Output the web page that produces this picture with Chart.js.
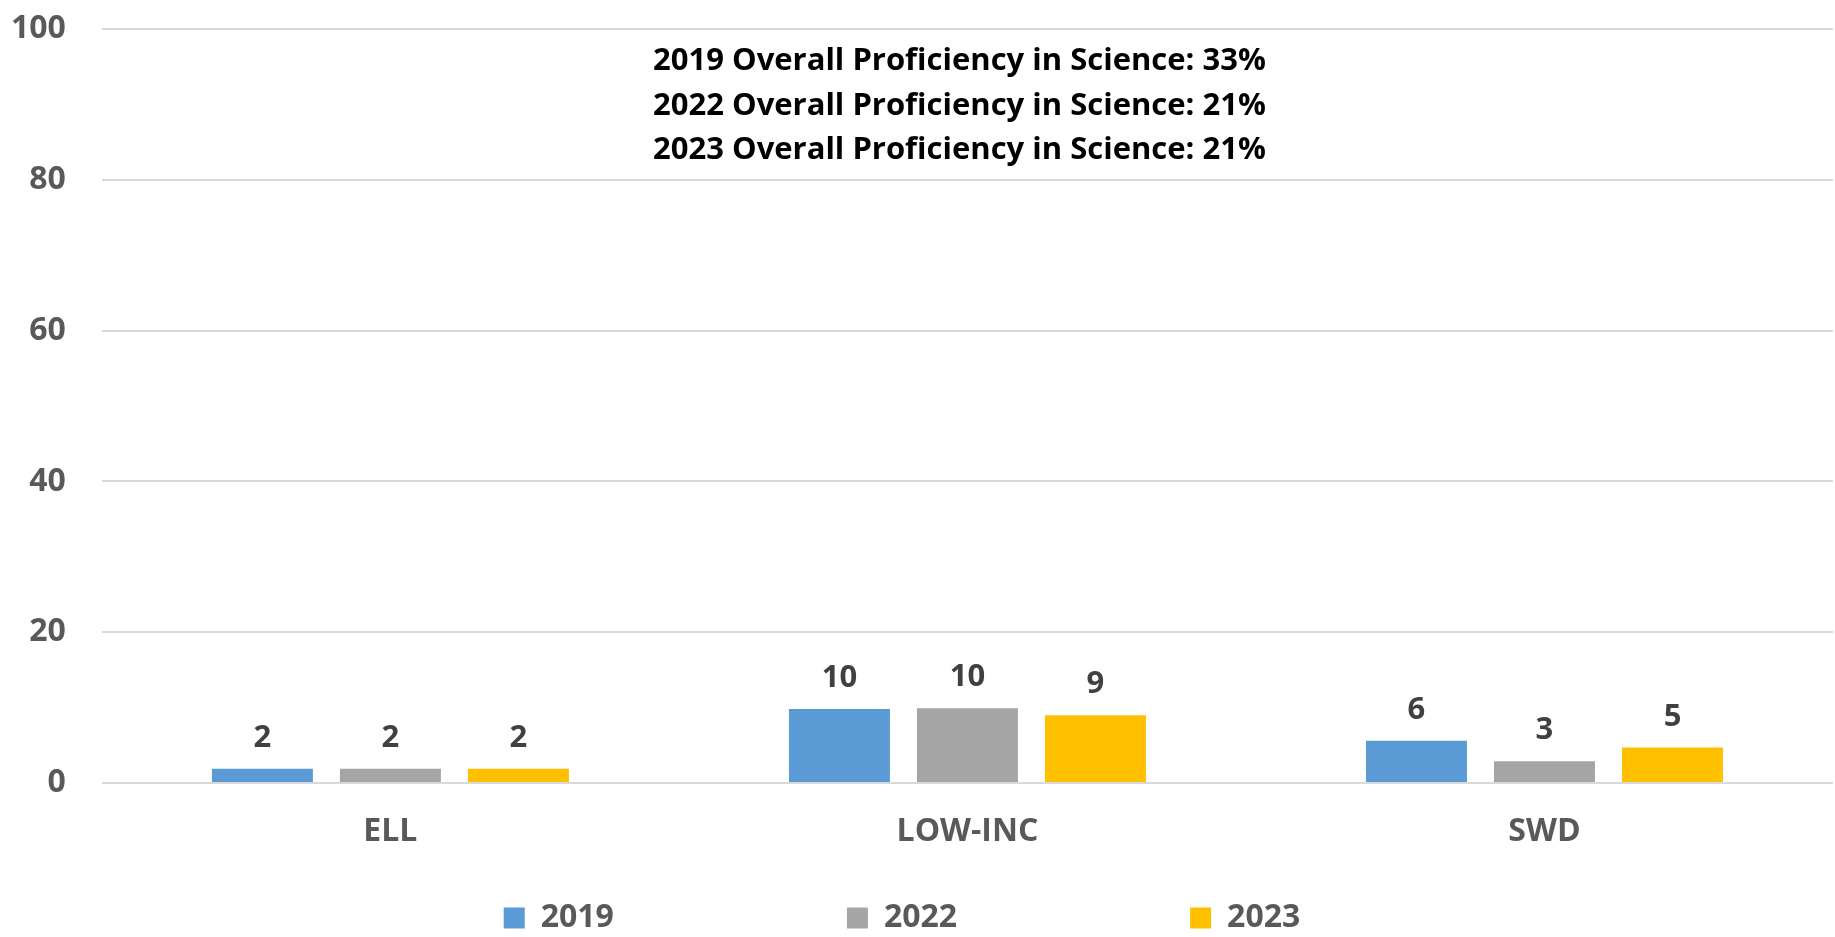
<!DOCTYPE html>
<html>
<head>
<meta charset="utf-8">
<script src="https://cdn.jsdelivr.net/npm/chart.js@4/dist/chart.umd.min.js"></script>
<style>
  html, body { margin: 0; padding: 0; background: #ffffff; }
  #wrap { width: 1835px; height: 937px; position: relative; }
</style>
</head>
<body>
<div id="wrap"><canvas id="c"></canvas></div>
<script>
// ---- data ----
const categories = ['ELL', 'LOW-INC', 'SWD'];
const seriesNames = ['2019', '2022', '2023'];
const values2019 = [1.9, 9.8, 5.6];
const values2022 = [1.9, 9.9, 2.9];
const values2023 = [1.9, 9.0, 4.7];
const yTicks = [0, 20, 40, 60, 80, 100];
const noteLines = [
  '2019 Overall Proficiency in Science: 33%',
  '2022 Overall Proficiency in Science: 21%',
  '2023 Overall Proficiency in Science: 21%'
];

// ---- styles ----
const colors = ['#5B9BD5', '#A5A5A5', '#FFC000'];
const FONT = '"Open Sans", "DejaVu Sans", sans-serif';
const axisText = '#595959';
const LEGEND_PAD = 233;
const Y_PAD = 36;
const X_PAD = 30;

const valueLabels = {
  id: 'valueLabels',
  afterDatasetsDraw(chart) {
    const ctx = chart.ctx;
    ctx.save();
    ctx.font = 'bold 31px ' + FONT;
    ctx.fillStyle = '#404040';
    ctx.textAlign = 'center';
    ctx.textBaseline = 'alphabetic';
    chart.data.datasets.forEach((ds, i) => {
      const meta = chart.getDatasetMeta(i);
      meta.data.forEach((bar, j) => {
        ctx.fillText(String(Math.round(ds.data[j])), bar.x, bar.y - 22);
      });
    });
    ctx.restore();
  }
};

const note = {
  id: 'note',
  afterDraw(chart) {
    const ctx = chart.ctx;
    const a = chart.chartArea;
    ctx.save();
    ctx.font = 'bold 31px ' + FONT;
    ctx.fillStyle = '#000000';
    ctx.textAlign = 'center';
    ctx.textBaseline = 'alphabetic';
    const cx = (a.left + a.right) / 2 - 8;
    noteLines.forEach((t, i) => {
      ctx.fillText(t, cx, a.top + 41 + i * 44.5);
    });
    ctx.restore();
  }
};

const legendPlace = {
  id: 'legendPlace',
  afterLayout(chart) {
    const lg = chart.legend;
    if (!lg) return;
    lg.top = 902 - LEGEND_PAD;
    lg.left -= 20;
    lg.right -= 20;
  }
};

new Chart(document.getElementById('c'), {
  type: 'bar',
  data: {
    labels: categories,
    datasets: [
      { label: seriesNames[0], data: values2019, backgroundColor: colors[0], borderWidth: 0 },
      { label: seriesNames[1], data: values2022, backgroundColor: colors[1], borderWidth: 0 },
      { label: seriesNames[2], data: values2023, backgroundColor: colors[2], borderWidth: 0 }
    ]
  },
  options: {
    responsive: true,
    maintainAspectRatio: false,
    animation: false,
    devicePixelRatio: 1,
    layout: { padding: { top: 29, left: 11, right: 2, bottom: 0 } },
    datasets: { bar: { categoryPercentage: 0.6655, barPercentage: 0.789 } },
    scales: {
      x: {
        grid: { display: false, drawTicks: false },
        border: { display: false },
        ticks: { color: axisText, font: { family: FONT, size: 32, weight: 'bold' }, padding: X_PAD },
        afterFit(axis) { axis.height -= X_PAD; }
      },
      y: {
        min: 0, max: 100,
        afterBuildTicks(axis) { axis.ticks = yTicks.map(v => ({ value: v })); },
        grid: { color: '#d9d9d9', lineWidth: 2, drawTicks: false },
        border: { display: false },
        ticks: { color: axisText, font: { family: FONT, size: 32, weight: 'bold' }, padding: Y_PAD },
        afterFit(axis) {
          axis.width -= Y_PAD;
          axis.paddingTop = 19;
          axis.paddingBottom = 19;
        }
      }
    },
    plugins: {
      legend: {
        position: 'bottom',
        maxHeight: 85.6,
        labels: {
          color: axisText,
          font: { family: FONT, size: 32, weight: 'bold' },
          boxWidth: 21, boxHeight: 21,
          padding: LEGEND_PAD
        }
      },
      tooltip: { enabled: false }
    }
  },
  plugins: [valueLabels, note, legendPlace]
});
</script>
</body>
</html>
